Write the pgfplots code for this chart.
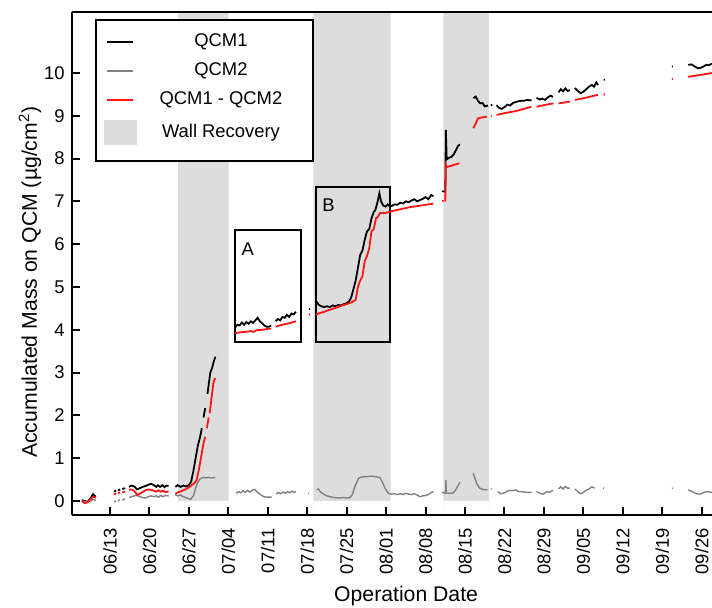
\documentclass[border=0pt]{standalone}
\usepackage{fontspec}
\setmainfont{Liberation Sans}
\usepackage{pgfplots}
\usepackage{pgfplotstable}
\pgfplotsset{compat=1.18}
\definecolor{wallgray}{RGB}{221,221,221}
\definecolor{qgray}{RGB}{128,128,128}
\definecolor{qred}{RGB}{255,20,20}
\pgfplotsset{
  blackline/.style={legend image code/.code={\path[draw=none, fill=none] (0pt,-5pt) rectangle (16.5pt,5pt);\path[fill=black, draw=none] (1.75pt,-0.5pt) rectangle (14.75pt,0.5pt);}},
  grayline/.style={legend image code/.code={\path[draw=none, fill=none] (0pt,-5pt) rectangle (16.5pt,5pt);\path[fill=qgray, draw=none] (1.75pt,-0.5pt) rectangle (14.75pt,0.5pt);}},
  redline/.style={legend image code/.code={\path[draw=none, fill=none] (0pt,-5pt) rectangle (16.5pt,5pt);\path[fill=qred, draw=none] (1.75pt,-0.5pt) rectangle (14.75pt,0.5pt);}},
  wallpatch/.style={legend image code/.code={\path[draw=none, fill=none] (0pt,-9pt) rectangle (16.5pt,8pt);\path[fill=wallgray, draw=none] (0pt,-6.25pt) rectangle (16.5pt,6.25pt);}},
}

\pgfplotstableread[row sep=\\]{
x y\\
7.0 0.02\\ 7.5 0.0\\ 8.0 -0.02\\ 8.5 0.05\\ 9.0 0.16\\ 9.3 0.12\\ 9.5 0.10\\ nan nan\\
12.7 0.22\\ 13.1 0.24\\ nan nan\\ 13.4 0.25\\ 13.8 0.27\\ nan nan\\ 14.2 0.28\\ 14.7 0.30\\ nan nan\\
15.4 0.33\\ 15.8 0.36\\ 16.3 0.34\\ 16.8 0.27\\ 17.3 0.30\\ 17.8 0.33\\ 18.3 0.35\\ 18.8 0.38\\ 19.3 0.40\\ 19.8 0.37\\ 20.2 0.33\\ 20.5 0.37\\ 20.9 0.33\\ 21.3 0.37\\ 21.7 0.32\\ 22.0 0.36\\ 22.4 0.35\\ nan nan\\
23.6 0.33\\ 24.0 0.37\\ 24.5 0.33\\ 25.0 0.36\\ 25.5 0.34\\ 26.0 0.37\\ 26.4 0.45\\ 26.8 0.70\\ 27.2 1.00\\ 27.6 1.30\\ 28.0 1.50\\ 28.3 1.70\\ nan nan\\ 28.6 1.95\\ 28.9 2.17\\ nan nan\\ 29.3 2.50\\ 29.8 3.00\\ 30.1 3.10\\ 30.4 3.25\\ 30.7 3.37\\ nan nan\\
34.2 4.05\\ 34.6 4.12\\ 35.0 4.10\\ 35.4 4.17\\ 35.8 4.12\\ 36.2 4.18\\ 36.6 4.14\\ 37.0 4.20\\ 37.4 4.16\\ 37.8 4.22\\ 38.2 4.28\\ 38.6 4.20\\ 39.0 4.15\\ 39.4 4.10\\ 39.8 4.07\\ 40.2 4.07\\ 40.6 4.10\\ nan nan\\
41.4 4.20\\ 41.8 4.25\\ 42.2 4.22\\ 42.6 4.30\\ 43.0 4.28\\ 43.4 4.35\\ 43.8 4.30\\ 44.2 4.38\\ 44.6 4.36\\ 45.0 4.42\\ nan nan\\
47.3 4.48\\ 47.5 4.49\\ nan nan\\
48.5 4.56\\ 48.8 4.63\\ 49.1 4.58\\ 49.5 4.55\\ 50.0 4.53\\ 50.5 4.55\\ 51.0 4.53\\ 51.5 4.57\\ 52.0 4.55\\ 52.5 4.58\\ 53.0 4.57\\ 53.5 4.60\\ 54.0 4.62\\ 54.4 4.66\\ 54.8 4.75\\ 55.2 4.95\\ 55.6 5.15\\ 56.0 5.45\\ 56.4 5.75\\ 56.8 5.85\\ 57.2 6.10\\ 57.6 6.30\\ 58.0 6.35\\ 58.4 6.60\\ 58.8 6.75\\ 59.1 6.80\\ 59.5 7.00\\ 59.8 7.19\\ 60.1 7.00\\ 60.5 6.90\\ 60.9 6.88\\ 61.3 6.93\\ 61.7 6.88\\ 62.1 6.90\\ 62.5 6.93\\ 63.0 6.92\\ 63.5 6.97\\ 64.0 6.95\\ 64.5 7.00\\ 65.0 6.98\\ 65.5 7.02\\ 66.0 7.05\\ 66.5 7.00\\ 67.0 7.03\\ 67.5 7.06\\ 68.0 7.10\\ 68.5 7.05\\ 69.0 7.15\\ 69.4 7.12\\ nan nan\\
71.0 7.22\\ 71.2 7.25\\ nan nan\\
71.5 7.20\\ 71.6 8.67\\ 71.75 7.98\\ 72.2 8.02\\ 72.6 8.04\\ 73.0 8.10\\ 73.4 8.20\\ 73.8 8.30\\ 74.1 8.33\\ nan nan\\
76.47 9.41\\ 76.9 9.45\\ 77.3 9.35\\ 77.7 9.29\\ 78.1 9.30\\ 78.5 9.22\\ 79.1 9.24\\ nan nan\\ 79.6 9.25\\ 79.85 9.26\\ nan nan\\
80.6 9.25\\ 81.0 9.19\\ 81.5 9.16\\ 82.0 9.20\\ 82.5 9.26\\ 83.0 9.24\\ 83.5 9.30\\ 84.0 9.32\\ 84.5 9.34\\ 85.0 9.35\\ 85.5 9.35\\ 86.0 9.37\\ 86.8 9.36\\ nan nan\\
87.7 9.42\\ 88.2 9.38\\ 88.7 9.40\\ 89.2 9.37\\ 89.7 9.43\\ 90.2 9.47\\ 90.6 9.44\\ nan nan\\
91.6 9.55\\ 92.0 9.62\\ 92.4 9.57\\ 92.8 9.64\\ 93.2 9.58\\ 93.6 9.60\\ nan nan\\
94.5 9.65\\ 95.0 9.58\\ 95.5 9.53\\ 96.0 9.56\\ 96.5 9.62\\ 97.0 9.68\\ 97.5 9.72\\ 97.9 9.68\\ 98.3 9.78\\ 98.6 9.72\\ nan nan\\
99.6 9.84\\ 99.8 9.84\\ nan nan\\
111.7 10.15\\ 111.9 10.15\\ nan nan\\
114.6 10.19\\ 115.2 10.20\\ 115.8 10.15\\ 116.3 10.11\\ 116.8 10.12\\ 117.3 10.15\\ 117.8 10.19\\ 118.3 10.18\\ 118.8 10.22\\
}\qcmone

\pgfplotstableread[row sep=\\]{
x y\\
7.0 0.00\\ 7.5 -0.02\\ 8.0 0.00\\ 8.5 0.00\\ 9.0 0.03\\ 9.5 0.02\\ nan nan\\
12.7 -0.02\\ 13.1 0.00\\ nan nan\\ 13.4 0.00\\ 13.8 0.03\\ nan nan\\ 14.2 0.02\\ 14.7 0.05\\ nan nan\\
15.4 0.08\\ 15.8 0.10\\ 16.3 0.12\\ 16.8 0.13\\ 17.3 0.10\\ 17.8 0.08\\ 18.3 0.07\\ 18.8 0.10\\ 19.3 0.12\\ 19.8 0.10\\ 20.2 0.12\\ 20.6 0.09\\ 21.0 0.13\\ 21.4 0.10\\ 21.8 0.13\\ 22.4 0.12\\ nan nan\\
23.6 0.15\\ 24.0 0.12\\ 24.5 0.14\\ 25.0 0.10\\ 25.5 0.08\\ 26.0 0.05\\ 26.3 0.04\\ 26.8 0.12\\ 27.2 0.30\\ 27.5 0.42\\ 28.0 0.52\\ 28.6 0.55\\ 29.0 0.54\\ 29.5 0.55\\ 30.0 0.54\\ 30.7 0.55\\ nan nan\\
34.36 0.18\\ 34.8 0.22\\ 35.2 0.19\\ 35.6 0.24\\ 36.0 0.20\\ 36.4 0.25\\ 36.8 0.21\\ 37.2 0.25\\ 37.7 0.27\\ 38.2 0.20\\ 38.8 0.14\\ 39.3 0.10\\ 39.8 0.09\\ 40.7 0.09\\ nan nan\\
41.5 0.16\\ 41.9 0.20\\ 42.3 0.17\\ 42.7 0.21\\ 43.1 0.18\\ 43.5 0.22\\ 43.9 0.19\\ 44.3 0.23\\ 44.7 0.20\\ 45.0 0.22\\ nan nan\\
47.1 0.18\\ 47.3 0.18\\ nan nan\\
48.7 0.26\\ 49.0 0.28\\ 49.3 0.22\\ 49.8 0.17\\ 50.3 0.13\\ 51.0 0.10\\ 51.8 0.08\\ 52.6 0.07\\ 53.4 0.08\\ 54.0 0.07\\ 54.6 0.08\\ 55.0 0.15\\ 55.5 0.35\\ 56.1 0.53\\ 56.6 0.56\\ 57.5 0.57\\ 58.5 0.58\\ 59.5 0.56\\ 59.9 0.55\\ 60.4 0.42\\ 60.8 0.30\\ 61.4 0.18\\ 62.0 0.16\\ 62.5 0.17\\ 63.0 0.15\\ 63.5 0.17\\ 64.0 0.15\\ 64.5 0.18\\ 65.0 0.16\\ 65.5 0.15\\ 66.0 0.17\\ 66.5 0.14\\ 67.0 0.10\\ 67.5 0.12\\ 68.0 0.13\\ 68.5 0.15\\ 69.0 0.20\\ 69.4 0.22\\ nan nan\\
70.9 0.20\\ 71.3 0.19\\ 71.55 0.18\\ 71.6 0.49\\ 71.7 0.19\\ 72.4 0.18\\ 72.9 0.19\\ 73.3 0.25\\ 73.6 0.32\\ 74.1 0.44\\ nan nan\\
76.47 0.65\\ 77.1 0.40\\ 77.6 0.30\\ 78.2 0.27\\ 79.0 0.26\\ nan nan\\ 79.6 0.28\\ 79.8 0.28\\ nan nan\\
80.8 0.22\\ 81.3 0.17\\ 81.8 0.18\\ 82.4 0.22\\ 83.0 0.25\\ 83.5 0.24\\ 84.0 0.26\\ 84.5 0.22\\ 85.0 0.22\\ 85.5 0.21\\ 86.2 0.20\\ 86.8 0.20\\ nan nan\\
87.7 0.22\\ 88.3 0.18\\ 88.9 0.16\\ 89.5 0.22\\ 90.0 0.20\\ 90.6 0.25\\ nan nan\\
91.6 0.28\\ 92.0 0.33\\ 92.4 0.28\\ 92.8 0.34\\ 93.2 0.30\\ 93.6 0.30\\ nan nan\\
94.5 0.28\\ 95.0 0.22\\ 95.5 0.17\\ 96.0 0.20\\ 96.5 0.25\\ 97.0 0.28\\ 97.5 0.33\\ 98.0 0.30\\ nan nan\\
99.5 0.30\\ 99.7 0.30\\ nan nan\\
111.7 0.30\\ 111.9 0.30\\ nan nan\\
114.6 0.26\\ 115.3 0.22\\ 116.0 0.17\\ 116.7 0.16\\ 117.4 0.20\\ 118.0 0.22\\ 118.8 0.20\\
}\qcmtwo

\pgfplotstableread[row sep=\\]{
x y\\
7.0 0.00\\ 7.5 -0.05\\ 8.0 -0.03\\ 8.5 0.03\\ 9.0 0.10\\ 9.5 0.08\\ nan nan\\
12.7 0.15\\ 13.1 0.18\\ nan nan\\ 13.4 0.18\\ 13.8 0.20\\ nan nan\\ 14.2 0.20\\ 14.7 0.22\\ nan nan\\
15.4 0.26\\ 15.8 0.27\\ 16.3 0.24\\ 16.8 0.14\\ 17.3 0.17\\ 17.8 0.21\\ 18.3 0.25\\ 18.8 0.27\\ 19.3 0.26\\ 19.8 0.24\\ 20.2 0.22\\ 20.6 0.25\\ 21.0 0.22\\ 21.4 0.24\\ 21.8 0.21\\ 22.4 0.22\\ nan nan\\
23.6 0.17\\ 24.0 0.20\\ 24.5 0.22\\ 25.0 0.25\\ 25.5 0.28\\ 26.0 0.32\\ 26.5 0.37\\ 27.0 0.42\\ 27.4 0.50\\ 27.8 0.75\\ 28.2 1.05\\ 28.6 1.35\\ 28.9 1.50\\ nan nan\\ 29.2 1.70\\ 29.5 1.95\\ nan nan\\ 29.7 2.05\\ 30.1 2.50\\ 30.4 2.80\\ 30.7 2.87\\ nan nan\\
34.2 3.92\\ 35.0 3.94\\ 36.0 3.95\\ 37.0 3.97\\ 37.5 3.95\\ 38.0 3.99\\ 39.0 4.00\\ 40.0 4.02\\ 40.6 4.03\\ nan nan\\
41.4 4.07\\ 42.0 4.10\\ 43.0 4.13\\ 44.0 4.16\\ 45.0 4.20\\ nan nan\\
47.3 4.35\\ 47.5 4.36\\ nan nan\\
48.5 4.35\\ 49.0 4.38\\ 50.0 4.42\\ 51.0 4.47\\ 52.0 4.51\\ 53.0 4.56\\ 54.0 4.60\\ 55.0 4.65\\ 55.6 4.70\\ 56.0 5.00\\ 56.4 5.15\\ 56.8 5.25\\ 57.2 5.60\\ 57.6 5.72\\ 58.0 5.90\\ 58.4 6.30\\ 58.8 6.35\\ 59.2 6.60\\ 59.6 6.65\\ 59.9 6.73\\ 60.8 6.73\\ 61.5 6.75\\ 62.0 6.77\\ 63.0 6.80\\ 64.0 6.83\\ 65.0 6.86\\ 66.0 6.88\\ 67.0 6.90\\ 68.0 6.92\\ 69.0 6.94\\ 69.4 6.95\\ nan nan\\
71.0 7.00\\ 71.2 7.02\\ nan nan\\
71.5 7.00\\ 71.6 7.85\\ 71.75 7.80\\ 72.5 7.83\\ 73.2 7.86\\ 74.0 7.89\\ nan nan\\
76.47 8.71\\ 77.0 8.85\\ 77.3 8.94\\ 78.0 8.96\\ 78.9 8.98\\ nan nan\\ 79.6 9.00\\ 79.8 9.00\\ nan nan\\
80.6 9.02\\ 82.0 9.06\\ 84.0 9.11\\ 86.8 9.21\\ nan nan\\
87.7 9.21\\ 89.0 9.25\\ 90.7 9.29\\ nan nan\\
91.6 9.29\\ 93.6 9.33\\ nan nan\\
94.5 9.37\\ 96.0 9.41\\ 98.6 9.49\\ nan nan\\
99.6 9.50\\ 99.8 9.50\\ nan nan\\
111.7 9.86\\ 111.9 9.86\\ nan nan\\
114.6 9.91\\ 116.0 9.94\\ 117.5 9.97\\ 118.8 10.00\\
}\qcmdiff

\begin{document}
\begin{tikzpicture}[font=\fontsize{9.2}{11}\selectfont]
\begin{axis}[
  scale only axis, width=320pt, height=251.5pt,
  xmin=5.26, xmax=118.83, ymin=-0.327, ymax=11.425,
  clip=false,
  axis x line*=bottom, axis y line*=left,
  axis line style={line width=1pt},
  every tick/.style={black, line width=1pt},
  major tick length=4pt,
  tick align=inside,
  xtick={12,19,26,33,40,47,54,61,68,75,82,89,96,103,110,117},
  xticklabels={06/13,06/20,06/27,07/04,07/11,07/18,07/25,08/01,08/08,08/15,08/22,08/29,09/05,09/12,09/19,09/26},
  xticklabel style={rotate=90, anchor=east, inner sep=0pt, xshift=-6.5pt},
  ytick={0,1,2,3,4,5,6,7,8,9,10},
  /pgf/number format/assume math mode=true,
  yticklabel style={inner sep=0pt, xshift=-3.5pt},
  xlabel={Operation Date},
  xlabel style={at={(rel axis cs:0.522,-0.161)}, anchor=center, font=\fontsize{10.6}{12}\selectfont},
  ylabel={Accumulated Mass on QCM (µg/cm\textsuperscript{2})},
  ylabel style={at={(rel axis cs:-0.0656,0.463)}, anchor=center, rotate=0, font=\fontsize{10.6}{12}\selectfont},
  unbounded coords=jump,
  legend style={at={(rel axis cs:0.0359,0.986)}, anchor=north west, draw=black, line width=1pt, inner xsep=4pt, inner ysep=5pt, row sep=2.5pt},
]
% wall recovery shading
\addplot[fill=wallgray, draw=none, forget plot] coordinates {(24.07,-0.327) (24.07,11.425) (33.06,11.425) (33.06,-0.327)} \closedcycle;
\addplot[fill=wallgray, draw=none, forget plot] coordinates {(48.08,-0.327) (48.08,11.425) (61.81,11.425) (61.81,-0.327)} \closedcycle;
\addplot[fill=wallgray, draw=none, forget plot] coordinates {(71.15,-0.327) (71.15,11.425) (79.26,11.425) (79.26,-0.327)} \closedcycle;
% boxes A and B
\draw[line width=1pt] (axis cs:34.12,3.72) rectangle (axis cs:45.81,6.33);
\draw[line width=1pt] (axis cs:48.48,3.72) rectangle (axis cs:61.70,7.34);
\node[anchor=north west, inner sep=0pt] at (axis cs:35.3,6.05) {A};
\node[anchor=north west, inner sep=0pt] at (axis cs:49.6,7.07) {B};
% series
\addplot[black, line width=0.9pt, blackline] table[x=x,y=y] {\qcmone};
\addlegendentry{\makebox[80pt]{QCM1}}
\addplot[qgray, line width=0.7pt, grayline] table[x=x,y=y] {\qcmtwo};
\addlegendentry{\makebox[80pt]{QCM2}}
\addplot[qred, line width=0.9pt, redline] table[x=x,y=y] {\qcmdiff};
\addlegendentry{\makebox[80pt]{QCM1 - QCM2}}
\addlegendimage{wallpatch}
\addlegendentry{\makebox[80pt]{Wall Recovery}}
% top spine
\draw[line width=1pt] (rel axis cs:0,1) -- (rel axis cs:1,1);
\coordinate (BL) at (rel axis cs:0,0);
\coordinate (TR) at (rel axis cs:1,1);
\end{axis}
\pgfresetboundingbox
\path ([shift={(-36pt,-46.5pt)}]BL) rectangle ([shift={(0pt,6pt)}]TR);
\end{tikzpicture}
\end{document}
